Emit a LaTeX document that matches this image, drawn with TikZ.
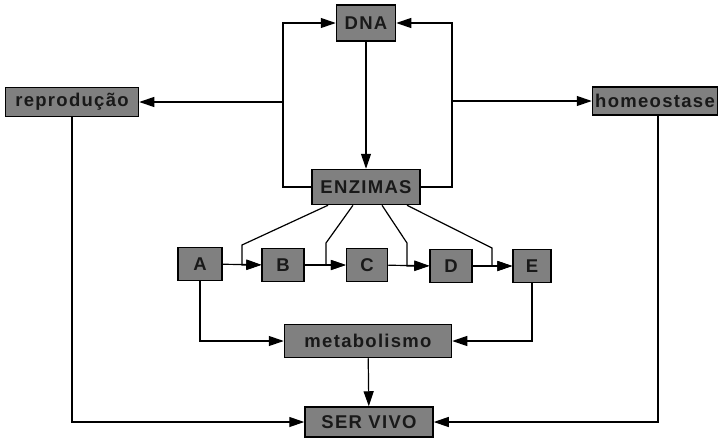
\documentclass[tikz,border=0pt]{standalone}
\usepackage{fontspec}
\setmainfont{Liberation Sans}
\newfontfamily\boxfont[LetterSpace=7]{Liberation Sans}
\usetikzlibrary{arrows.meta}
\begin{document}
\begin{tikzpicture}[x=1pt,y=-1pt,
  box/.style={draw=black, line width=1.5pt, fill=black!50, inner sep=0pt,
    font=\boxfont\fontsize{18.5}{21}\selectfont\bfseries, text=black!90},
  con/.style={line width=1.2pt, -{Triangle[length=15pt,width=10pt]}},
  ln/.style={line width=1.2pt}]
\useasboundingbox (0,0) rectangle (721,437);
% nodes
\node[box, minimum width=59, minimum height=36] (dna) at (366,23) {DNA};
\node[box, minimum width=133, minimum height=29] (rep) at (72,102) {reprodução};
\node[box, minimum width=125, minimum height=28] (hom) at (655,101) {homeostase};
\node[box, minimum width=108, minimum height=35] (enz) at (366,187) {ENZIMAS};
\node[box, minimum width=44, minimum height=33] (a) at (200,264) {A};
\node[box, minimum width=42, minimum height=33] (b) at (283,265) {B};
\node[box, minimum width=41, minimum height=33] (c) at (367,265) {C};
\node[box, minimum width=42, minimum height=33] (d) at (451,266) {D};
\node[box, minimum width=38, minimum height=33] (e) at (532,266) {E};
\node[box, minimum width=167, minimum height=33] (met) at (368,341) {metabolismo};
\node[box, minimum width=128, minimum height=30] (ser) at (369,422) {SER VIVO};
% coordinates
\coordinate (L) at (283,23);
\coordinate (R) at (452,23);
\coordinate (Lr) at (283,102);
\coordinate (Rh) at (452,101);
\coordinate (k1) at (242,245);
\coordinate (k2) at (326,243);
\coordinate (k3) at (407,243);
\coordinate (k4) at (492,248);
% connectors
\draw[con] (dna) -- (enz);
\draw[con] (enz.west) -| (L) -- (dna.west);
\draw[con] (enz.east) -| (R) -- (dna.east);
\draw[con] (Lr) -- (rep.east);
\draw[con] (Rh) -- (hom.west);
\draw[con] (a) -- (b);
\draw[con] (b) -- (c);
\draw[con] (c) -- (d);
\draw[con] (d) -- (e);
\draw[con] ([xshift=-38]enz.south) -- (k1) -- (k1 |- b.west) -- (b.west);
\draw[con] ([xshift=-13]enz.south) -- (k2) -- (k2 |- c.west) -- (c.west);
\draw[con] ([xshift=16]enz.south) -- (k3) -- (k3 |- d.west) -- (d.west);
\draw[con] ([xshift=41]enz.south) -- (k4) -- (k4 |- e.west) -- (e.west);
\draw[con] (a.south) |- (met.west);
\draw[con] (e.south) |- (met.east);
\draw[con] (met) -- (ser);
\draw[con] (rep.south) |- (ser.west);
\draw[con] ([xshift=3]hom.south) |- (ser.east);
\end{tikzpicture}
\end{document}
